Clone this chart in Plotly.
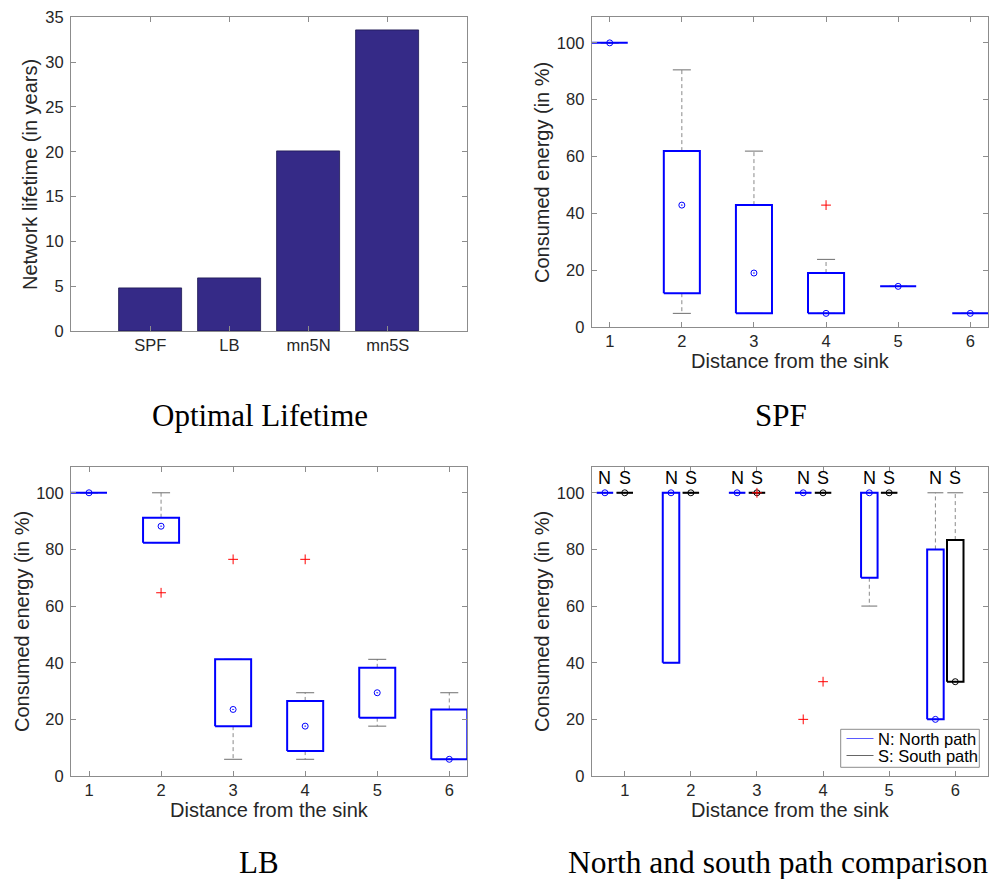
import plotly.graph_objects as go

# ---------------- data ----------------
bar_labels = ["SPF", "LB", "mn5N", "mn5S"]
bar_values = [4.8, 5.9, 20.1, 33.6]

distances = [1, 2, 3, 4, 5, 6]

# SPF box statistics per distance
spf_low = [100, 4.8, 4.8, 4.8, 14.3, 4.8]
spf_q1 = [100, 11.9, 4.8, 4.8, 14.3, 4.8]
spf_median = [100, 42.9, 19.0, 4.8, 14.3, 4.8]
spf_q3 = [100, 61.9, 42.9, 19.0, 14.3, 4.8]
spf_high = [100, 90.5, 61.9, 23.8, 14.3, 4.8]
spf_outliers = [[], [], [], [42.9], [], []]

# LB box statistics per distance
lb_low = [100, 82.4, 5.9, 5.9, 17.6, 5.9]
lb_q1 = [100, 82.4, 17.6, 8.8, 20.6, 5.9]
lb_median = [100, 88.2, 23.5, 17.6, 29.4, 5.9]
lb_q3 = [100, 91.2, 41.2, 26.5, 38.2, 23.5]
lb_high = [100, 100, 41.2, 29.4, 41.2, 29.4]
lb_outliers = [[], [64.7], [76.5], [76.5], [], []]

# North path
n_low = [100, 40, 100, 100, 60, 20]
n_q1 = [100, 40, 100, 100, 70, 20]
n_median = [100, 100, 100, 100, 100, 20]
n_q3 = [100, 100, 100, 100, 100, 80]
n_high = [100, 100, 100, 100, 100, 100]
n_outliers = [[], [], [], [20], [], []]

# South path
s_low = [100, 100, 100, 100, 100, 33.3]
s_q1 = [100, 100, 100, 100, 100, 33.3]
s_median = [100, 100, 100, 100, 100, 33.3]
s_q3 = [100, 100, 100, 100, 100, 83.3]
s_high = [100, 100, 100, 100, 100, 100]
s_outliers = [[], [], [100], [33.3], [], []]

panel_titles = ["Optimal Lifetime", "SPF", "LB", "North and south path comparison"]
legend_names = ["N: North path", "S: South path"]

# ---------------- helpers ----------------
W, H = 997, 879
SANS = "Liberation Sans, Arial, Helvetica, sans-serif"
TICK_FONT = dict(family=SANS, size=16.5, color="#262626")
TITLE_FONT = dict(family=SANS, size=20, color="#262626")
AX_COL = "#8c8c8c"


def px_x(a):
    return a / W


def px_y(b):
    return 1 - b / H


def dx(a, b):
    return [px_x(a), px_x(b)]


def dy(top, bottom):
    return [px_y(bottom), px_y(top)]


def ax_style(**kw):
    d = dict(showline=True, linecolor=AX_COL, linewidth=1, mirror="ticks",
             ticks="inside", ticklen=5, tickcolor=AX_COL, showgrid=False,
             zeroline=False, tickfont=TICK_FONT, fixedrange=True, automargin=False)
    d.update(kw)
    return d


def add_boxes(fig, xa, ya, pos, lo, q1, med, q3, hi, outl, offset, width, capw,
              color):
    wx, wy, cx, cy, bx, by = [], [], [], [], [], []
    mx, my, ox, oy = [], [], [], []
    for i, p in enumerate(pos):
        c = p + offset
        if hi[i] > q3[i]:
            wx += [c, c, None]
            wy += [q3[i], hi[i], None]
        if lo[i] < q1[i]:
            wx += [c, c, None]
            wy += [q1[i], lo[i], None]
        cx += [c - capw / 2, c + capw / 2, None, c - capw / 2, c + capw / 2, None]
        cy += [hi[i], hi[i], None, lo[i], lo[i], None]
        x0, x1 = c - width / 2, c + width / 2
        bx += [x0, x1, x1, x0, x0, None]
        by += [q1[i], q1[i], q3[i], q3[i], q1[i], None]
        mx.append(c)
        my.append(med[i])
        for o in outl[i]:
            ox.append(c)
            oy.append(o)
    common = dict(xaxis=xa, yaxis=ya, showlegend=False, hoverinfo="skip")
    fig.add_trace(go.Scatter(x=wx, y=wy, mode="lines",
                             line=dict(color="#8a8a8a", width=1, dash="4px,3px"),
                             **common))
    fig.add_trace(go.Scatter(x=cx, y=cy, mode="lines",
                             line=dict(color="#6e6e6e", width=1), **common))
    fig.add_trace(go.Scatter(x=bx, y=by, mode="lines",
                             line=dict(color=color, width=2), **common))
    fig.add_trace(go.Scatter(x=mx, y=my, mode="markers",
                             marker=dict(symbol="circle-open-dot", size=6,
                                         color=color, line=dict(width=1, color=color)),
                             **common))
    if ox:
        fig.add_trace(go.Scatter(x=ox, y=oy, mode="markers",
                                 marker=dict(symbol="cross-thin-open", size=7,
                                             line=dict(width=1, color="#ff0000"),
                                             color="#ff0000"),
                                 **common))


fig = go.Figure()

# ---- panel 1 : bar chart ----
bar_pos = list(range(1, len(bar_labels) + 1))
fig.add_trace(go.Bar(x=bar_pos, y=bar_values, width=0.8,
                     marker=dict(color="#352a87", line=dict(color="#1c1650", width=0.8)),
                     xaxis="x", yaxis="y", showlegend=False, hoverinfo="skip"))

# ---- panel 2 : SPF ----
add_boxes(fig, "x2", "y2", distances, spf_low, spf_q1, spf_median, spf_q3,
          spf_high, spf_outliers, 0.0, 0.5, 0.25, "#0000ff")

# ---- panel 3 : LB ----
add_boxes(fig, "x3", "y3", distances, lb_low, lb_q1, lb_median, lb_q3,
          lb_high, lb_outliers, 0.0, 0.5, 0.25, "#0000ff")

# ---- panel 4 : North / South ----
add_boxes(fig, "x4", "y4", distances, n_low, n_q1, n_median, n_q3,
          n_high, n_outliers, -0.3, 0.25, 0.24, "#0000ff")
add_boxes(fig, "x4", "y4", distances, s_low, s_q1, s_median, s_q3,
          s_high, s_outliers, 0.0, 0.25, 0.24, "#000000")

annotations = []
shapes = []
NS_FONT = dict(family=SANS, size=18, color="#000000")
for d in distances:
    annotations.append(dict(x=d - 0.3, y=105.3, xref="x4", yref="y4", text="N",
                            showarrow=False, font=NS_FONT))
    annotations.append(dict(x=d, y=105.3, xref="x4", yref="y4", text="S",
                            showarrow=False, font=NS_FONT))

# panel titles
SERIF = "Liberation Serif, Times New Roman, serif"
title_specs = [(260, 415.5, 31), (781, 415.5, 31), (259, 862, 31), (778, 862, 31.5)]
for t, (px, py, fs) in zip(panel_titles, title_specs):
    annotations.append(dict(x=px_x(px), y=px_y(py), xref="paper", yref="paper", text=t,
                            showarrow=False, font=dict(family=SERIF, size=fs, color="#000000"),
                            xanchor="center", yanchor="middle", borderpad=0))

# axis titles
ylab = ["Network lifetime (in years)", "Consumed energy (in %)",
        "Consumed energy (in %)", "Consumed energy (in %)"]
ylab_pos = [(30, 175), (541.5, 172.5), (21.5, 621.5), (541.5, 621.5)]
for t, (px, py) in zip(ylab, ylab_pos):
    annotations.append(dict(x=px_x(px), y=px_y(py), xref="paper", yref="paper", text=t,
                            textangle=-90, showarrow=False, font=TITLE_FONT,
                            xanchor="center", yanchor="middle"))
xlab_pos = [(790, 361), (269, 810), (790, 810)]
for (px, py) in xlab_pos:
    annotations.append(dict(x=px_x(px), y=px_y(py), xref="paper", yref="paper",
                            text="Distance from the sink", showarrow=False, font=TITLE_FONT,
                            xanchor="center", yanchor="middle"))

# legend of the north/south panel (box, line samples, labels)
LEG_FONT = dict(family=SANS, size=16.5, color="#000000")
shapes.append(dict(type="rect", xref="paper", yref="paper",
                   x0=px_x(840.7), x1=px_x(979.3), y0=px_y(767.3), y1=px_y(729.3),
                   line=dict(color="#8c8c8c", width=1), fillcolor="white", layer="above"))
for name, col, ly in zip(legend_names, ["#5a5aff", "#666666"], [738.5, 755.5]):
    shapes.append(dict(type="line", xref="paper", yref="paper",
                       x0=px_x(846.5), x1=px_x(873.5), y0=px_y(ly), y1=px_y(ly),
                       line=dict(color=col, width=1), layer="above"))
    annotations.append(dict(x=px_x(875.5), y=px_y(ly), xref="paper", yref="paper",
                            text=name, showarrow=False, font=LEG_FONT,
                            xanchor="left", yanchor="middle"))

y_box_ticks = [0, 20, 40, 60, 80, 100]

fig.update_layout(
    width=W, height=H,
    margin=dict(l=0, r=0, t=0, b=0, autoexpand=False),
    paper_bgcolor="white", plot_bgcolor="white",
    xaxis=ax_style(domain=dx(71, 467), range=[0, 5], tickvals=bar_pos, ticktext=bar_labels,
                   anchor="y", ticklabelstandoff=-1),
    yaxis=ax_style(domain=dy(17.3, 331), range=[0, 35], tickvals=[0, 5, 10, 15, 20, 25, 30, 35],
                   anchor="x", ticklabelstandoff=3),
    xaxis2=ax_style(domain=dx(591.7, 988.3), range=[0.75, 6.25], tickvals=distances,
                    anchor="y2", ticklabelstandoff=-1),
    yaxis2=ax_style(domain=dy(17.3, 327), range=[0, 109], tickvals=y_box_ticks, anchor="x2",
                    ticklabelstandoff=3),
    xaxis3=ax_style(domain=dx(71, 467.3), range=[0.75, 6.25], tickvals=distances,
                    anchor="y3", ticklabelstandoff=-1),
    yaxis3=ax_style(domain=dy(467.3, 776), range=[0, 109], tickvals=y_box_ticks, anchor="x3",
                    ticklabelstandoff=3),
    xaxis4=ax_style(domain=dx(591.7, 988.3), range=[0.5, 6.5], tickvals=distances,
                    anchor="y4", ticklabelstandoff=-1),
    yaxis4=ax_style(domain=dy(467.3, 776), range=[0, 109], tickvals=y_box_ticks, anchor="x4",
                    ticklabelstandoff=3),
    annotations=annotations,
    shapes=shapes,
    showlegend=False,
    bargap=0,
)

# the page body default margin is removed so the figure fills the window exactly
fig.write_html("out.html", config={"displayModeBar": False},
               post_script="document.body.style.margin='0px';")
